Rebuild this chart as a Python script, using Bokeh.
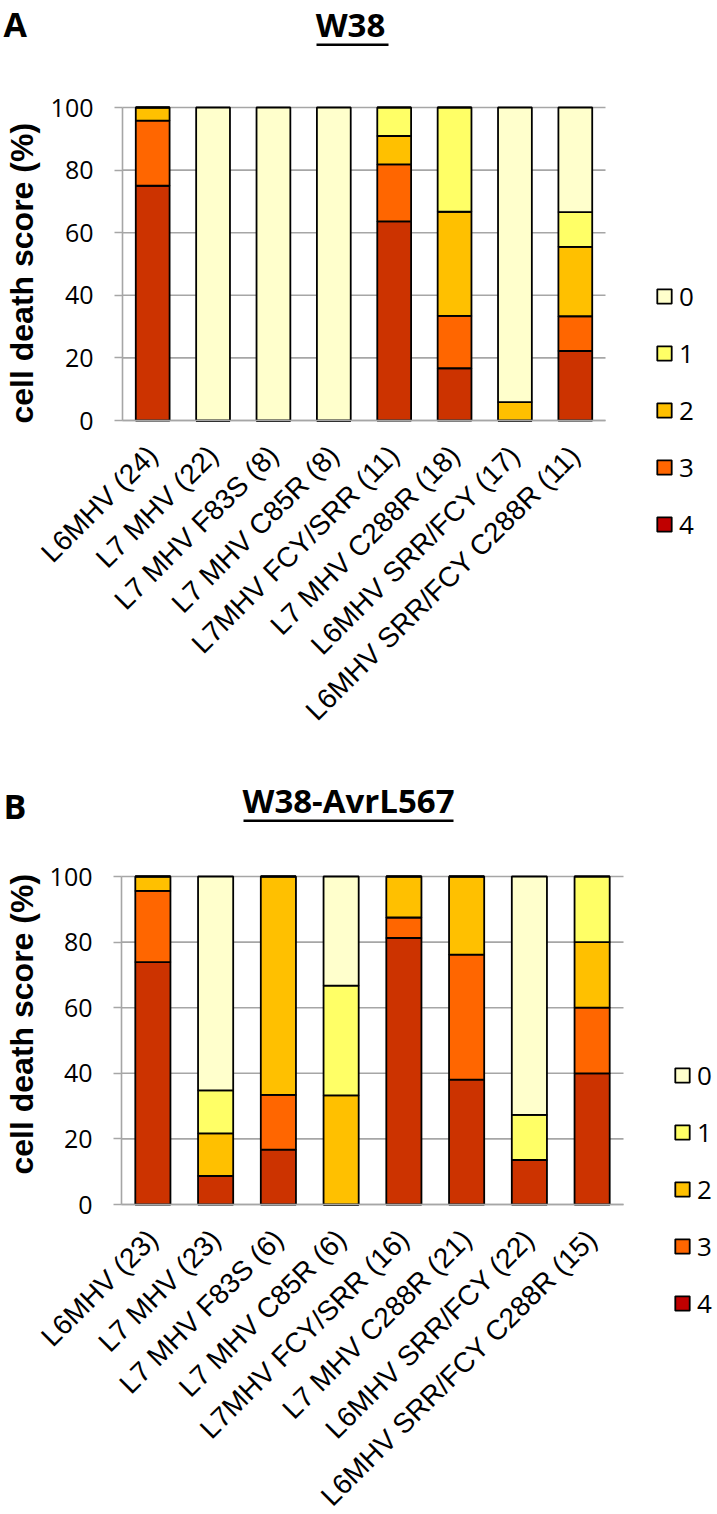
import math
from bokeh.plotting import figure
from bokeh.models import (ColumnDataSource, Range1d, Legend, LegendItem,
                          Label, BoxAnnotation, FixedTicker)
from bokeh.layouts import column
from bokeh.embed import file_html
from bokeh.resources import INLINE

# ---------------- data ----------------
score_names = ["4", "3", "2", "1", "0"]          # bottom -> top in the stack
bar_colors = ["#CC3300", "#FF6600", "#FFC000", "#FFFF66", "#FFFFCC"]
legend_labels = ["0", "1", "2", "3", "4"]
legend_colors = ["#FFFFCC", "#FFFF66", "#FFC000", "#FF6600", "#C00000"]

categories_a = ["L6MHV (24)", "L7 MHV (22)", "L7 MHV F83S (8)", "L7 MHV C85R (8)",
                "L7MHV FCY/SRR (11)", "L7 MHV C288R (18)", "L6MHV SRR/FCY (17)",
                "L6MHV SRR/FCY C288R (11)"]
score4_a = [75.0, 0, 0, 0, 63.6, 16.7, 0, 22.2]
score3_a = [20.8, 0, 0, 0, 18.2, 16.7, 0, 11.1]
score2_a = [4.2, 0, 0, 0, 9.1, 33.3, 5.9, 22.2]
score1_a = [0, 0, 0, 0, 9.1, 33.3, 0, 11.1]
score0_a = [0, 100, 100, 100, 0, 0, 94.1, 33.4]

categories_b = ["L6MHV (23)", "L7 MHV (23)", "L7 MHV F83S (6)", "L7 MHV C85R (6)",
                "L7MHV FCY/SRR (16)", "L7 MHV C288R (21)", "L6MHV SRR/FCY (22)",
                "L6MHV SRR/FCY C288R (15)"]
score4_b = [73.9, 8.7, 16.7, 0, 81.25, 38.1, 13.6, 40]
score3_b = [21.7, 0, 16.7, 0, 6.25, 38.1, 0, 20]
score2_b = [4.4, 13.0, 66.6, 33.3, 12.5, 23.8, 0, 20]
score1_b = [0, 13.1, 0, 33.4, 0, 0, 13.7, 20]
score0_b = [0, 65.2, 0, 33.3, 0, 0, 72.7, 0]

y_ticks = [0, 20, 40, 60, 80, 100]
y_title = "cell death score (%)"

GRAY = "#A6A6A6"
W = 717
NAN = float("nan")


def make_panel(letter, title, cats, s4, s3, s2, s1, s0, H,
               px_left, px_right, px_top, px_bottom,
               legend_top, legend_left, title_xy, underline, letter_xy, ylabel_xy):
    n = len(cats)
    ux = (px_right - px_left) / n          # pixels per category
    uy = (px_bottom - px_top) / 100.0      # pixels per percent
    x_range = Range1d(-px_left / ux, (W - px_left) / ux)
    y_range = Range1d(-(H - px_bottom) / uy, 100 + px_top / uy)

    p = figure(width=W, height=H, output_backend="svg", toolbar_location=None,
               x_range=x_range, y_range=y_range,
               min_border=0, min_border_left=0, min_border_right=0,
               min_border_top=0, min_border_bottom=0)
    p.outline_line_color = None
    p.background_fill_color = "white"
    p.border_fill_color = "white"
    p.xgrid.visible = False
    p.ygrid.visible = False

    xpos = [i + 0.5 for i in range(n)]

    # horizontal grid lines across the plot area
    p.segment(x0=[0] * len(y_ticks), x1=[n] * len(y_ticks), y0=y_ticks, y1=y_ticks,
              line_color=GRAY, line_width=1.6)

    src = ColumnDataSource(dict(x=xpos, **{"4": s4, "3": s3, "2": s2, "1": s1, "0": s0}))
    p.vbar_stack(score_names, x="x", width=0.56, source=src,
                 fill_color=bar_colors, line_color="black", line_width=1.8)

    # y axis
    yax = p.yaxis[0]
    yax.fixed_location = 0
    yax.bounds = (0, 100)
    yax.ticker = FixedTicker(ticks=y_ticks)
    yax.axis_line_color = GRAY
    yax.axis_line_width = 1.6
    yax.major_tick_line_color = GRAY
    yax.major_tick_line_width = 1.6
    yax.major_tick_out = 8
    yax.major_tick_in = 0
    yax.minor_tick_line_color = None
    yax.major_label_standoff = 21
    yax.major_label_text_font = "Open Sans"
    yax.major_label_text_font_size = "25px"
    yax.major_label_text_color = "black"

    # x axis
    xax = p.xaxis[0]
    xax.fixed_location = 0
    xax.bounds = (0, n)
    xax.ticker = FixedTicker(ticks=xpos)
    xax.major_label_overrides = {x: c for x, c in zip(xpos, cats)}
    xax.axis_line_color = GRAY
    xax.axis_line_width = 1.6
    xax.major_tick_line_color = None
    xax.major_tick_out = 0
    xax.major_tick_in = 0
    xax.minor_tick_line_color = None
    xax.major_label_orientation = math.pi / 4
    xax.major_label_standoff = 30
    xax.major_label_text_font = "Liberation Sans"
    xax.major_label_text_font_size = "28px"
    xax.major_label_text_color = "black"

    # legend (dummy, undrawn renderers carry the legend colours)
    items = []
    for lab, col in zip(legend_labels, legend_colors):
        r = p.vbar(x=[NAN], top=[NAN], width=0.5, fill_color=col,
                   line_color="black", line_width=1.8)
        items.append(LegendItem(label=lab, renderers=[r]))
    item_h, gap = 36, 21
    leg_h = 5 * item_h + 4 * gap
    leg = Legend(items=items, location=(legend_left, H - (legend_top + leg_h)),
                 orientation="vertical",
                 glyph_width=18, glyph_height=18, label_height=26, spacing=gap,
                 padding=0, margin=0, label_standoff=6, border_line_color=None,
                 background_fill_alpha=0, label_text_font="Open Sans",
                 label_text_font_size="26px", label_text_color="black")
    p.add_layout(leg, "center")

    # title, underline, panel letter, y title (screen px, origin bottom-left)
    p.add_layout(Label(x=title_xy[0], y=H - title_xy[1], x_units="screen", y_units="screen",
                       text=title, text_font="Open Sans", text_font_style="bold",
                       text_font_size="33px", text_align="center",
                       text_baseline="alphabetic", text_color="black"))
    p.add_layout(BoxAnnotation(left=underline[0], right=underline[1],
                               bottom=H - underline[2] - 2.5, top=H - underline[2],
                               left_units="screen", right_units="screen",
                               bottom_units="screen", top_units="screen",
                               fill_color="black", fill_alpha=1, line_color=None))
    p.add_layout(Label(x=letter_xy[0], y=H - letter_xy[1], x_units="screen", y_units="screen",
                       text=letter, text_font="Open Sans", text_font_style="bold",
                       text_font_size="34px", text_align="left",
                       text_baseline="alphabetic", text_color="black"))
    p.add_layout(Label(x=ylabel_xy[0], y=H - ylabel_xy[1], x_units="screen", y_units="screen",
                       text=y_title, text_font="Liberation Sans", text_font_style="bold",
                       text_font_size="32px", angle=math.pi / 2, text_align="left",
                       text_baseline="middle", text_color="black"))
    return p


pa = make_panel("A", "W38", categories_a, score4_a, score3_a, score2_a, score1_a, score0_a,
                H=748, px_left=122, px_right=605, px_top=107, px_bottom=420,
                legend_top=278, legend_left=655, title_xy=(350, 24),
                underline=(316, 388, 43), letter_xy=(3, 23), ylabel_xy=(21, 423))
pb = make_panel("B", "W38-AvrL567", categories_b, score4_b, score3_b, score2_b, score1_b,
                score0_b, H=766, px_left=121, px_right=623, px_top=128, px_bottom=456,
                legend_top=309, legend_left=673, title_xy=(348, 52),
                underline=(243, 453, 71), letter_xy=(3, 57), ylabel_xy=(21, 426))

layout = column(pa, pb)
open("out.html", "w").write(file_html(layout, INLINE))
